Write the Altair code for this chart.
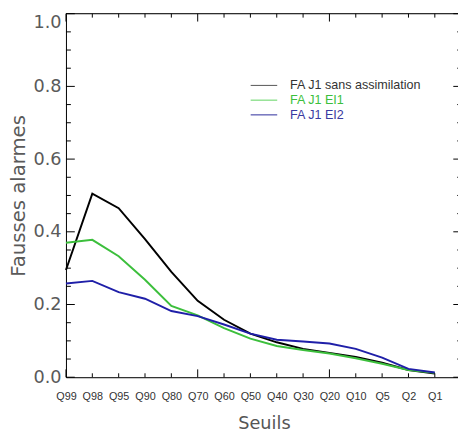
import json
import altair as alt
import pandas as pd

labels = ["Q99", "Q98", "Q95", "Q90", "Q80", "Q70", "Q60", "Q50", "Q40", "Q30", "Q20", "Q10", "Q5", "Q2", "Q1"]
fa_sans = [0.295, 0.505, 0.465, 0.38, 0.29, 0.21, 0.158, 0.12, 0.096, 0.078, 0.067, 0.056, 0.04, 0.02, 0.01]
fa_ei1 = [0.37, 0.378, 0.333, 0.268, 0.196, 0.17, 0.135, 0.106, 0.086, 0.075, 0.065, 0.052, 0.037, 0.02, 0.012]
fa_ei2 = [0.258, 0.265, 0.234, 0.216, 0.182, 0.168, 0.145, 0.12, 0.103, 0.098, 0.093, 0.078, 0.054, 0.023, 0.013]
series_names = ["FA J1 sans assimilation", "FA J1 EI1", "FA J1 EI2"]
series_colors = ["#000000", "#3cbf3c", "#1f1fa8"]
legend_line_colors = ["#555555", "#5fd35f", "#2a2a9a"]
legend_text_colors = ["#333333", "#3cbf3c", "#3a3aa0"]

x_major = [0, 5, 10, 15]
x_minor = [i for i in range(15) if i not in x_major]
y_major = [0.0, 0.2, 0.4, 0.6, 0.8, 1.0]
y_minor = [round(i * 0.05, 2) for i in range(21) if i % 4 != 0]

W, H = 399, 370
XMAX = 14.88
X_RIGHT = W * 15 / XMAX

rows = []
for name, vals in zip(series_names, [fa_sans, fa_ei1, fa_ei2]):
    for i, v in enumerate(vals):
        rows.append({"idx": i, "label": labels[i], "value": v, "series": name})
df = pd.DataFrame(rows)

xscale = alt.Scale(domain=[0, XMAX], nice=False, zero=False)
yscale = alt.Scale(domain=[0, 1], nice=False)

label_expr = json.dumps(labels) + "[datum.value]"

x_axis = alt.Axis(values=list(range(15)), labelExpr=label_expr, ticks=False,
                  labelFlush=False, labelOverlap=False, labelSeparation=0,
                  labelFont="Liberation Sans",
                  labelFontSize=11, labelColor="#333333", labelPadding=14,
                  grid=False, domainColor="#000000",
                  title="Seuils", titleFont="DejaVu Sans", titleFontSize=18,
                  titleFontWeight="normal", titleColor="#555555",
                  titleX=W / 2 + 2, titleY=52, titleBaseline="alphabetic", titleAlign="center")
y_axis = alt.Axis(values=y_major, format=".1f", ticks=False, grid=False,
                  labelFont="DejaVu Sans", labelFontSize=18, labelColor="#5a5a5a",
                  labelPadding=5, labelFlush=False, labelOverlap=False,
                  labelBaseline={"condition": {"test": "datum.value == 1", "value": "top"},
                                 "value": "middle"},
                  domainColor="#000000",
                  title="Fausses alarmes", titleFont="DejaVu Sans", titleFontSize=20,
                  titleFontWeight="normal", titleColor="#5a5a5a",
                  titleAngle=270, titleX=-48, titleY=185,
                  titleAlign="center", titleBaseline="middle")

lines = alt.Chart(df).mark_line(strokeWidth=2).encode(
    x=alt.X("idx:Q", scale=xscale, axis=x_axis),
    y=alt.Y("value:Q", scale=yscale, axis=y_axis),
    color=alt.Color("series:N", scale=alt.Scale(domain=series_names, range=series_colors), legend=None),
    detail="series:N",
)

xmaj = pd.DataFrame({"idx": x_major})
xmin = pd.DataFrame({"idx": x_minor})
ymaj = pd.DataFrame({"value": y_major})
ymin = pd.DataFrame({"value": y_minor})

def xticks(d, y0, y1):
    return alt.Chart(d).mark_rule(color="#000000", strokeWidth=1).encode(
        x=alt.X("idx:Q", scale=xscale, axis=x_axis), y=alt.value(y0), y2=alt.value(y1))

def yticks(d, x0, x1):
    return alt.Chart(d).mark_rule(color="#000000", strokeWidth=1).encode(
        y=alt.Y("value:Q", scale=yscale, axis=y_axis), x=alt.value(x0), x2=alt.value(x1))

tick_layers = [
    xticks(xmaj, H, H - 8), xticks(xmin, H, H - 4),
    xticks(xmaj, 0, 8), xticks(xmin, 0, 4),
    yticks(ymaj, 0, 9), yticks(ymin, 0, 5),
    yticks(ymaj, X_RIGHT, X_RIGHT - 8), yticks(ymin, X_RIGHT, X_RIGHT - 4),
]

top_line = alt.Chart(pd.DataFrame({"a": [0]})).mark_rule(color="#000000", strokeWidth=1).encode(
    x=alt.value(0), x2=alt.value(W), y=alt.value(0))

legend_layers = []
for k, name in enumerate(series_names):
    yy = 73 + 15 * k
    d = pd.DataFrame({"series": [name]})
    legend_layers.append(
        alt.Chart(d).mark_rule(color=legend_line_colors[k], strokeWidth=1).encode(
            x=alt.value(188), x2=alt.value(215), y=alt.value(yy)))
    legend_layers.append(
        alt.Chart(d).mark_text(align="left", baseline="middle", font="Liberation Sans",
                               fontSize=12.8, color=legend_text_colors[k]).encode(
            x=alt.value(228), y=alt.value(yy), text="series:N"))

chart = alt.layer(lines, top_line, *tick_layers, *legend_layers).properties(
    width=W, height=H,
    autosize=alt.AutoSizeParams(type="none"),
    padding={"left": 59, "top": 2, "right": 0, "bottom": 54},
).configure_view(stroke=None).configure(background="white")

chart.save("out.html", embed_options={"renderer": "svg", "actions": False})
